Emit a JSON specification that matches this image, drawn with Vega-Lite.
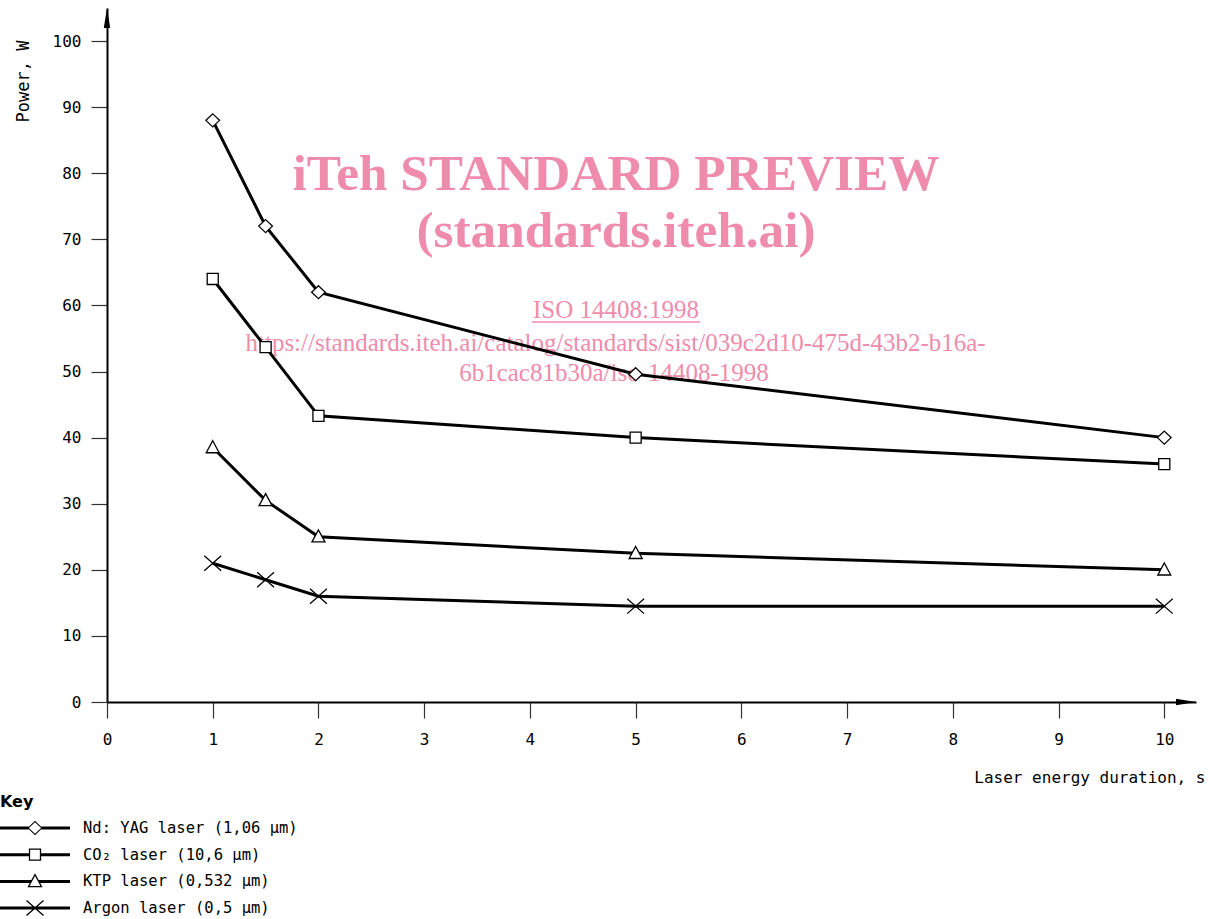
{
  "$schema": "https://vega.github.io/schema/vega-lite/v6.json",
  "width": 1089,
  "height": 694,
  "autosize": {"type": "none"},
  "padding": {"left": 107, "top": 8, "right": 20, "bottom": 217},
  "background": "white",
  "config": {
    "view": {"stroke": null},
    "axis": {"grid": false}
  },
  "datasets": {
    "lasers": [
      {"laser": "Nd: YAG laser (1,06 µm)", "x": 1, "y": 88},
      {"laser": "Nd: YAG laser (1,06 µm)", "x": 1.5, "y": 72},
      {"laser": "Nd: YAG laser (1,06 µm)", "x": 2, "y": 62},
      {"laser": "Nd: YAG laser (1,06 µm)", "x": 5, "y": 49.6},
      {"laser": "Nd: YAG laser (1,06 µm)", "x": 10, "y": 40},
      {"laser": "CO₂ laser (10,6 µm)", "x": 1, "y": 64},
      {"laser": "CO₂ laser (10,6 µm)", "x": 1.5, "y": 53.7},
      {"laser": "CO₂ laser (10,6 µm)", "x": 2, "y": 43.3},
      {"laser": "CO₂ laser (10,6 µm)", "x": 5, "y": 40},
      {"laser": "CO₂ laser (10,6 µm)", "x": 10, "y": 36},
      {"laser": "KTP laser (0,532 µm)", "x": 1, "y": 38.5},
      {"laser": "KTP laser (0,532 µm)", "x": 1.5, "y": 30.5},
      {"laser": "KTP laser (0,532 µm)", "x": 2, "y": 25},
      {"laser": "KTP laser (0,532 µm)", "x": 5, "y": 22.5},
      {"laser": "KTP laser (0,532 µm)", "x": 10, "y": 20},
      {"laser": "Argon laser (0,5 µm)", "x": 1, "y": 21},
      {"laser": "Argon laser (0,5 µm)", "x": 1.5, "y": 18.5},
      {"laser": "Argon laser (0,5 µm)", "x": 2, "y": 16},
      {"laser": "Argon laser (0,5 µm)", "x": 5, "y": 14.5},
      {"laser": "Argon laser (0,5 µm)", "x": 10, "y": 14.5}
    ]
  },
  "data": {"name": "lasers"},
  "encoding": {
    "x": {
      "field": "x", "type": "quantitative",
      "scale": {"domain": [0, 10.3], "nice": false, "zero": false},
      "axis": {
        "values": [0, 1, 2, 3, 4, 5, 6, 7, 8, 9, 10],
        "domainColor": "black", "domainWidth": 2,
        "tickColor": "#333333", "tickWidth": 1.2, "tickSize": 16,
        "labelFont": "DejaVu Sans Mono", "labelFontSize": 16, "labelColor": "black",
        "labelPadding": 13, "labelFlush": false,
        "title": "Laser energy duration, s",
        "titleFont": "DejaVu Sans Mono", "titleFontSize": 16, "titleFontWeight": "normal", "titleColor": "black",
        "titleX": 1098, "titleY": 80, "titleAlign": "right", "titleBaseline": "alphabetic"
      }
    },
    "y": {
      "field": "y", "type": "quantitative",
      "scale": {"domain": [0, 105], "nice": false},
      "axis": {
        "values": [0, 10, 20, 30, 40, 50, 60, 70, 80, 90, 100],
        "domainColor": "black", "domainWidth": 2,
        "tickColor": "#333333", "tickWidth": 1.2, "tickSize": 16,
        "labelFont": "DejaVu Sans Mono", "labelFontSize": 16, "labelColor": "black",
        "labelPadding": 10,
        "title": "Power, W",
        "titleFont": "DejaVu Sans Mono", "titleFontSize": 17, "titleFontWeight": "normal", "titleColor": "black",
        "titleX": -79, "titleY": 114, "titleAngle": -90, "titleAlign": "left", "titleBaseline": "alphabetic"
      }
    }
  },
  "resolve": {"scale": {"shape": "independent"}, "legend": {"shape": "independent"}},
  "layer": [
    {
      "data": {"values": [
        {"x": 4.814, "y": 77.5, "t": "iTeh STANDARD PREVIEW"},
        {"x": 4.814, "y": 68.9, "t": "(standards.iteh.ai)"}
      ]},
      "mark": {"type": "text", "font": "Liberation Serif", "fontWeight": "bold", "fontSize": 51.3, "color": "#F08CAB", "align": "center", "baseline": "alphabetic"},
      "encoding": {"text": {"field": "t", "type": "nominal"}}
    },
    {
      "data": {"values": [
        {"x": 4.814, "y": 58.1, "t": "ISO 14408:1998"},
        {"x": 4.81, "y": 53.1, "t": "https://standards.iteh.ai/catalog/standards/sist/039c2d10-475d-43b2-b16a-"},
        {"x": 4.795, "y": 48.6, "t": "6b1cac81b30a/iso-14408-1998"}
      ]},
      "mark": {"type": "text", "font": "Liberation Serif", "fontSize": 25, "color": "#F08CAB", "align": "center", "baseline": "alphabetic"},
      "encoding": {"text": {"field": "t", "type": "nominal"}}
    },
    {
      "data": {"values": [{"x": 4.02, "x2": 5.61, "y": 57.5}]},
      "mark": {"type": "rule", "color": "#F08CAB", "strokeWidth": 1.5},
      "encoding": {"x2": {"field": "x2"}}
    },
    {
      "mark": {"type": "line", "strokeWidth": 3, "color": "black"},
      "encoding": {"detail": {"field": "laser", "type": "nominal"}}
    },
    {
      "mark": {"type": "point", "filled": true, "fill": "white", "stroke": "black", "strokeWidth": 1.3, "size": 169, "opacity": 1},
      "encoding": {
        "shape": {
          "field": "laser", "type": "nominal",
          "scale": {
            "domain": ["Nd: YAG laser (1,06 µm)", "CO₂ laser (10,6 µm)", "KTP laser (0,532 µm)", "Argon laser (0,5 µm)"],
            "range": [
              "M0,-1L1.05,0L0,1L-1.05,0Z",
              "M-0.85,-0.85H0.85V0.85H-0.85Z",
              "M0,-1.05L1,0.8L-1,0.8Z",
              "M-1.3,-1.15L1.3,1.15M-1.3,1.15L1.3,-1.15"
            ]
          },
          "legend": null
        }
      }
    },
    {
      "mark": {"type": "point", "filled": true, "color": "black", "fill": "black", "size": 0, "strokeWidth": 0, "opacity": 1},
      "encoding": {
        "shape": {
          "field": "laser", "type": "nominal",
          "scale": {
            "domain": ["Nd: YAG laser (1,06 µm)", "CO₂ laser (10,6 µm)", "KTP laser (0,532 µm)", "Argon laser (0,5 µm)"],
            "range": [
              "M-1,-0.0429H-0.18V0.0429H-1Z M0.18,-0.0429H1V0.0429H0.18Z M0,-0.2057L0.2143,0L0,0.2057L-0.2143,0Z M0,-0.1657L-0.1743,0L0,0.1657L0.1743,0Z",
              "M-1,-0.0429H-0.15V0.0429H-1Z M0.15,-0.0429H1V0.0429H0.15Z M-0.1757,-0.1757H0.1757V0.1757H-0.1757Z M-0.1386,-0.1386V0.1386H0.1386V-0.1386Z",
              "M-1,-0.0429H-0.106V0.0429H-1Z M0.106,-0.0429H1V0.0429H0.106Z M0,-0.2334L0.2169,0.1671L-0.2169,0.1671Z M0,-0.1551L-0.1546,0.13L0.1546,0.13Z",
              "M-1,-0.0429H1V0.0429H-1Z M-0.2551,-0.2004L-0.2306,-0.2282L0.2551,0.2004L0.2306,0.2282Z M-0.2306,0.2282L-0.2551,0.2004L0.2306,-0.2282L0.2551,-0.2004Z"
            ]
          },
          "legend": {
            "orient": "none", "legendX": -107, "legendY": 786, "padding": 0,
            "title": "Key", "titleFont": "DejaVu Sans", "titleFontWeight": "bold", "titleFontSize": 16, "titleColor": "black", "titlePadding": 8,
            "symbolSize": 4900, "symbolStrokeWidth": 0, "symbolFillColor": "black", "symbolStrokeColor": "transparent", "symbolOpacity": 1,
            "labelFont": "DejaVu Sans Mono", "labelFontSize": 15.5, "labelColor": "black", "labelOffset": 13, "labelLimit": 400,
            "clipHeight": 20, "rowPadding": 6.7
          }
        }
      }
    },
    {
      "data": {"values": [{"x": 10.3, "y": 0}]},
      "mark": {"type": "point", "shape": "M0,0L-1,-0.16L-1,0.16Z", "size": 1600, "filled": true, "color": "black", "opacity": 1, "strokeWidth": 0}
    },
    {
      "data": {"values": [{"x": 0, "y": 105}]},
      "mark": {"type": "point", "shape": "M0,0L-0.16,1L0.16,1Z", "size": 1600, "filled": true, "color": "black", "opacity": 1, "strokeWidth": 0}
    }
  ]
}
